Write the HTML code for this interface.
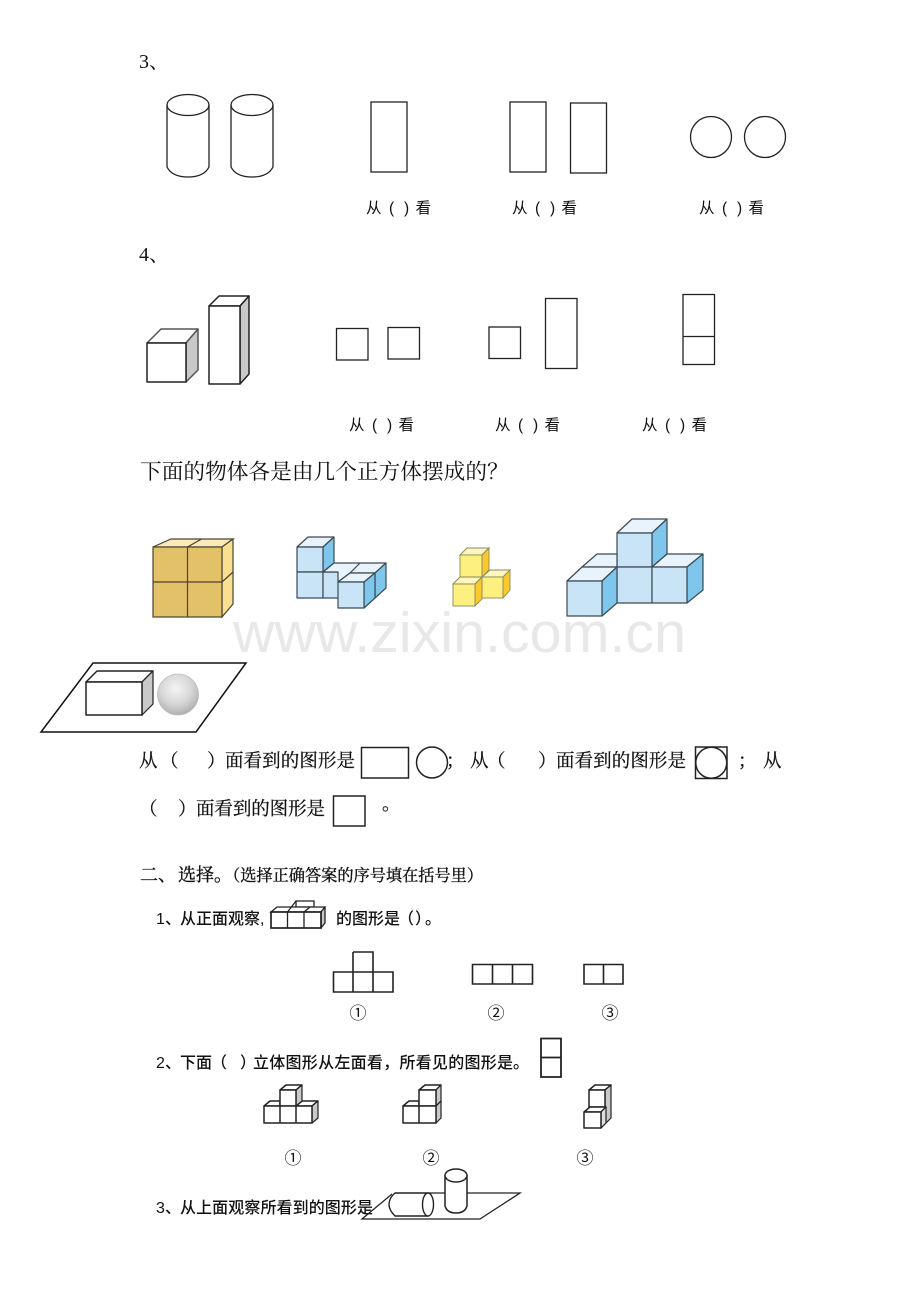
<!DOCTYPE html>
<html lang="zh">
<head>
<meta charset="utf-8">
<title>从不同方向观察物体</title>
<style>
html,body{margin:0;padding:0;background:#fff;}
svg{display:block;font-family:"Liberation Serif","Noto Serif CJK SC",serif;}
text{fill:#111;}
.s{font-family:"Liberation Sans","Noto Sans CJK SC",sans-serif;}
.l{font-size:15.500px;font-family:"Liberation Sans","Noto Sans CJK SC",sans-serif;}
.m{font-size:18.500px;}
.m text,text.m{stroke:#111;stroke-width:.25;}
.h{font-family:"Noto Serif CJK SC",serif;stroke:#111;stroke-width:.35;}
.q{font-size:16px;font-family:"Liberation Sans","Noto Sans CJK SC",sans-serif;font-weight:500;}
.k{fill:none;stroke:#222;stroke-width:1.3;}
.w{fill:#fff;stroke:#222;stroke-width:1.5;stroke-linejoin:round;}
.t{fill:#fff;stroke:#222;stroke-width:1.7;stroke-linejoin:miter;}
.g{fill:#c9c9c9;stroke:#222;stroke-width:1.5;stroke-linejoin:round;}
.gf{fill:#e3c169;stroke:#4a4432;stroke-width:1.2;}
.gt{fill:#fbe9b8;stroke:#4a4432;stroke-width:1.2;}
.gs{fill:#fbdf90;stroke:#4a4432;stroke-width:1.2;}
.bf{fill:#c9e4f6;stroke:#3a4a55;stroke-width:1.2;stroke-linejoin:round;}
.bt{fill:#e8f3fc;stroke:#3a4a55;stroke-width:1.2;stroke-linejoin:round;}
.bs{fill:#7fc6ec;stroke:#3a4a55;stroke-width:1.2;stroke-linejoin:round;}
.yf{fill:#fdf07f;stroke:#8c8a5a;stroke-width:.9;}
.yt{fill:#fdf6c0;stroke:#8c8a5a;stroke-width:.9;}
.ys{fill:#fbc92e;stroke:#8c8a5a;stroke-width:.9;}
</style>
</head>
<body>
<svg xmlns="http://www.w3.org/2000/svg" width="920" height="1302" viewBox="0 0 920 1302">
<defs>
<radialGradient id="sp" cx="45%" cy="35%" r="70%">
<stop offset="0" stop-color="#f4f4f4"/><stop offset=".55" stop-color="#d6d6d6"/><stop offset="1" stop-color="#a9a9a9"/>
</radialGradient>
</defs>
<rect width="920" height="1302" fill="#fff"/>

<text x="233" y="652" font-size="57" textLength="453" lengthAdjust="spacingAndGlyphs" style="font-family:'Liberation Sans',sans-serif;fill:#e8e8e8">www.zixin.com.cn</text>

<!-- 3 -->
<text x="139" y="68" font-size="20">3、</text>
<g class="k">
<ellipse cx="188" cy="105" rx="21" ry="10.500"/><path d="M167 105V167Q172 177 188 177Q204 177 209 167V105"/>
<ellipse cx="252" cy="105" rx="21" ry="10.500"/><path d="M231 105V167Q236 177 252 177Q268 177 273 167V105"/>
<rect x="371" y="102" width="36" height="70"/>
<rect x="510" y="102" width="36" height="70"/>
<rect x="570.500" y="103" width="36" height="70"/>
<circle cx="711" cy="137" r="20.500"/>
<circle cx="765" cy="137" r="20.500"/>
</g>
<g class="l">
<text x="366" y="213">从</text><text x="389" y="213">(</text><text x="404" y="213">)</text><text x="415.500" y="213">看</text>
<text x="512" y="213">从</text><text x="535" y="213">(</text><text x="550" y="213">)</text><text x="561.500" y="213">看</text>
<text x="699" y="213">从</text><text x="722" y="213">(</text><text x="737" y="213">)</text><text x="748.500" y="213">看</text>
<text x="349" y="430">从</text><text x="372" y="430">(</text><text x="387" y="430">)</text><text x="398.500" y="430">看</text>
<text x="495" y="430">从</text><text x="518" y="430">(</text><text x="533" y="430">)</text><text x="544.500" y="430">看</text>
<text x="642" y="430">从</text><text x="665" y="430">(</text><text x="680" y="430">)</text><text x="691.500" y="430">看</text>
</g>

<!-- 4 -->
<text x="139" y="261" font-size="20">4、</text>
<g>
<path class="w" d="M147 343L161 329H198L186 343Z" style="stroke:#555;stroke-width:1.500"/>
<path class="w" d="M186 343L198 329V370L186 382Z" style="fill:#c9c9c9;stroke:#555;stroke-width:1.500"/>
<rect class="w" x="147" y="343" width="39" height="39"/>
<path class="w" d="M209 306L219 296H249L240 306Z"/>
<path class="w" d="M240 306L249 296V374L240 384Z" style="fill:#c9c9c9"/>
<rect class="w" x="209" y="306" width="31" height="78"/>
</g>
<g class="k">
<rect x="336.500" y="328.500" width="31.500" height="31.500"/>
<rect x="388" y="327.500" width="31.500" height="31.500"/>
<rect x="489" y="327" width="31.500" height="31.500"/>
<rect x="545.500" y="298.500" width="31.500" height="70"/>
<rect x="683" y="294.500" width="31.500" height="70"/>
<path d="M683 336.500H714.500"/>
</g>

<text x="140" y="479" font-size="21.700" style="font-family:'Noto Serif CJK SC',serif">下面的物体各是由几个正方体摆成的？</text>

<!-- gold cube -->
<path class="gt" d="M153 547L171 539H233L222 547Z"/>
<path class="gt" d="M187.500 547L201.500 539"/>
<path class="gs" d="M222 547L233 539V604L222 617Z"/>
<path class="gs" d="M222 582L233 572"/>
<rect class="gf" x="153" y="547" width="69" height="70"/>
<path class="gf" d="M187.500 547V617M153 582H222"/>

<!-- blue 2 -->
<g>
<path class="bt" d="M297 547L308 537H334L323 547Z"/>
<path class="bs" d="M323 547L334 537V563L323 572Z"/>
<rect class="bf" x="297" y="547" width="26" height="25"/>
<rect class="bf" x="297" y="572" width="26" height="26"/>
<rect class="bf" x="323" y="572" width="26" height="26"/>
<path class="bt" d="M323 572L334 563H386L375 573H350L338 582L338 572Z"/>
<path class="bt" d="M360 563L350 573" />
<path class="bs" d="M375 573L386 563V588L375 598Z"/>
<path class="bt" d="M338 582L350 573H375L364 582Z"/>
<path class="bs" d="M364 582L375 573V598L364 608Z"/>
<rect class="bf" x="338" y="582" width="26" height="26"/>
</g>

<!-- yellow -->
<g>
<path class="yt" d="M460 555L467 548H489L482 555Z"/>
<path class="ys" d="M482 555L489 548V570L482 577Z"/>
<rect class="yf" x="460" y="555" width="22" height="22"/>
<path class="yt" d="M482 577L490 570H510L503 577Z"/>
<path class="ys" d="M503 577L510 570V590L503 598Z"/>
<rect class="yf" x="482" y="577" width="21" height="21"/>
<path class="yt" d="M453 584L460 577H482L475 584Z"/>
<path class="ys" d="M475 584L482 577V599L475 606Z"/>
<rect class="yf" x="453" y="584" width="22" height="22"/>
</g>

<!-- big blue -->
<g>
<path class="bt" d="M617 533L632 519H667L652 533Z"/>
<path class="bs" d="M652 533L667 519V554L652 567Z"/>
<rect class="bf" x="617" y="533" width="35" height="34"/>
<path class="bt" d="M582 567L597 554H617V567Z"/>
<path class="bt" d="M652 567L667 554H703L687 567Z"/>
<path class="bs" d="M687 567L703 554V590L687 603Z"/>
<rect class="bf" x="617" y="567" width="35" height="36"/>
<rect class="bf" x="652" y="567" width="35" height="36"/>
<path class="bt" d="M567 581L582 567H617L602 581Z"/>
<path class="bs" d="M602 581L617 567V603L602 616Z"/>
<rect class="bf" x="567" y="581" width="35" height="35"/>
</g>

<!-- plane, box, sphere -->
<path d="M93 663H246L196 732H41Z" fill="#fff" stroke="#111" stroke-width="1.500"/>
<path class="w" d="M86 682L97 671H153L142 682Z"/>
<path class="g" d="M142 682L153 671V704L142 715Z" style="stroke-width:1.200"/>
<rect class="w" x="86" y="682" width="56" height="33"/>
<circle cx="178" cy="694.500" r="20.500" fill="url(#sp)" stroke="#bbb" stroke-width=".8"/>

<!-- sentence -->
<g class="m">
<text x="139" y="767">从</text><text x="160" y="767">（</text><text x="207" y="767">）</text>
<text x="225" y="767" textLength="130">面看到的图形是</text>
<text x="446" y="767">；</text>
<text x="470" y="767">从</text><text x="487" y="767">（</text><text x="538" y="767">）</text>
<text x="556" y="767" textLength="130">面看到的图形是</text>
<text x="738" y="767">；</text>
<text x="763" y="767">从</text>
<text x="139" y="815">（</text><text x="178" y="815">）</text>
<text x="196" y="815" textLength="129">面看到的图形是</text>
<text x="382" y="810">。</text>
</g>
<g fill="none" stroke="#222" stroke-width="1.500">
<rect x="361.500" y="747.500" width="47" height="30.500"/>
<circle cx="432" cy="762.500" r="15.500"/>
<rect x="695.500" y="747" width="31.500" height="31.500"/>
<circle cx="711.250" cy="762.750" r="15.500"/>
<rect x="333.500" y="796" width="31.500" height="30"/>
</g>

<!-- section two -->
<text class="h" x="140" y="881" font-size="18">二</text>
<text class="h" x="158" y="881" font-size="18">、</text>
<text class="h" x="178" y="881" font-size="18">选择</text>
<text class="h" x="214" y="881" font-size="18">。</text>
<text class="h" x="224" y="881" font-size="16.200" textLength="259">（选择正确答案的序号填在括号里）</text>

<text class="q" x="156" y="924">1</text><text class="q" x="165" y="924">、</text>
<text class="q" x="180" y="924">从正面观察</text><text class="q" x="260" y="924">,</text>
<text class="q" x="336" y="924">的图形是</text>
<text class="q" x="398" y="924">（</text><text class="q" x="415" y="924">）</text><text class="q" x="425" y="924">。</text>

<g>
<path class="t" d="M296 901H314V907H296Z" style="stroke-width:1.300"/>
<path class="t" d="M271 912L277 907H325L321 912Z" style="stroke-width:1.300"/>
<path class="g" d="M321 912L325 907V923L321 928Z" style="stroke-width:1.300"/>
<rect class="t" x="271" y="912" width="50" height="16"/>
<path class="t" d="M287.500 912V928M304 912V928M287.500 912L296 901M304 912L310 907" style="fill:none;stroke-width:1.300"/>
</g>

<g fill="none" stroke="#222" stroke-width="1.600">
<path d="M333.500 972H393V992H333.500ZM353 952H373V992M353 952V992"/>
<path d="M472.500 964.500H532.500V984H472.500ZM492.500 964.500V984M512.500 964.500V984"/>
<path d="M584 964.500H623V984H584ZM603.500 964.500V984"/>
<path d="M541 1038.500H561V1077H541ZM541 1057.500H561" stroke-width="1.800"/>
</g>
<g class="s" font-size="17">
<text x="349.500" y="1019">①</text><text x="487.500" y="1019">②</text><text x="601.500" y="1019">③</text>
<text x="284.500" y="1164">①</text><text x="422.500" y="1164">②</text><text x="576.500" y="1164">③</text>
</g>

<text class="q" x="156" y="1068">2</text><text class="q" x="165" y="1068">、</text>
<text class="q" x="180" y="1068">下面</text>
<text class="q" x="211" y="1068">（</text><text class="q" x="240" y="1068">）</text>
<text class="q" x="253" y="1068" textLength="260">立体图形从左面看，所看见的图形是</text>
<text class="q" x="513" y="1068">。</text>

<!-- option 1 -->
<g>
<path class="w" d="M264 1106L270 1101H280V1106Z"/>
<path class="w" d="M296 1106L302 1101H318L312 1106Z"/>
<path class="g" d="M312 1106L318 1101V1118L312 1123Z" style="stroke-width:1.200"/>
<path class="w" d="M280 1090L286 1085H302L296 1090Z"/>
<path class="g" d="M296 1090L302 1085V1101L296 1106Z" style="stroke-width:1.200"/>
<rect class="w" x="280" y="1090" width="16" height="16"/>
<path class="w" d="M264 1106H312V1123H264ZM280 1106V1123M296 1106V1123"/>
</g>
<!-- option 2 -->
<g>
<path class="w" d="M403 1106L409 1101H419V1106Z"/>
<path class="w" d="M419 1090L425 1085H441L436 1090Z"/>
<path class="g" d="M436 1090L441 1085V1118L436 1123Z" style="stroke-width:1.200"/>
<path class="k" d="M436 1106L441 1101"/>
<rect class="w" x="419" y="1090" width="17" height="16"/>
<path class="w" d="M403 1106H436V1123H403ZM419 1106V1123"/>
</g>
<!-- option 3 -->
<g>
<path class="w" d="M589 1090L595 1085H611L605 1090Z"/>
<path class="g" d="M605 1090L611 1085V1118L601 1128V1106H605Z" style="stroke-width:1.200"/>
<rect class="w" x="589" y="1090" width="16" height="17"/>
<path class="w" d="M584 1112L590 1107H606L601 1112Z"/>
<path class="g" d="M601 1112L606 1107V1123L601 1128Z" style="fill:#ddd;stroke-width:1.200"/>
<rect class="w" x="584" y="1112" width="17" height="16"/>
</g>

<text class="q" x="156" y="1213">3</text><text class="q" x="165" y="1213">、</text>
<text class="q" x="180" y="1213" textLength="193">从上面观察所看到的图形是</text>

<!-- plane & cylinders -->
<path d="M392 1194L362 1219H480L520 1193H428" fill="none" stroke="#222" stroke-width="1.300"/>
<path d="M395 1193H428V1216H395Q389 1210 389 1204.500Q389 1198 395 1193Z" fill="#fff" stroke="#222" stroke-width="1.400"/>
<ellipse cx="428" cy="1204.500" rx="5.500" ry="11.500" fill="#fff" stroke="#222" stroke-width="1.400"/>
<path d="M445 1176V1206Q447 1213 456 1213Q465 1213 467 1206V1176Z" fill="#fff" stroke="#222" stroke-width="1.500"/>
<ellipse cx="456" cy="1175.500" rx="11" ry="6.500" fill="#fff" stroke="#222" stroke-width="1.500"/>
</svg>
</body>
</html>
